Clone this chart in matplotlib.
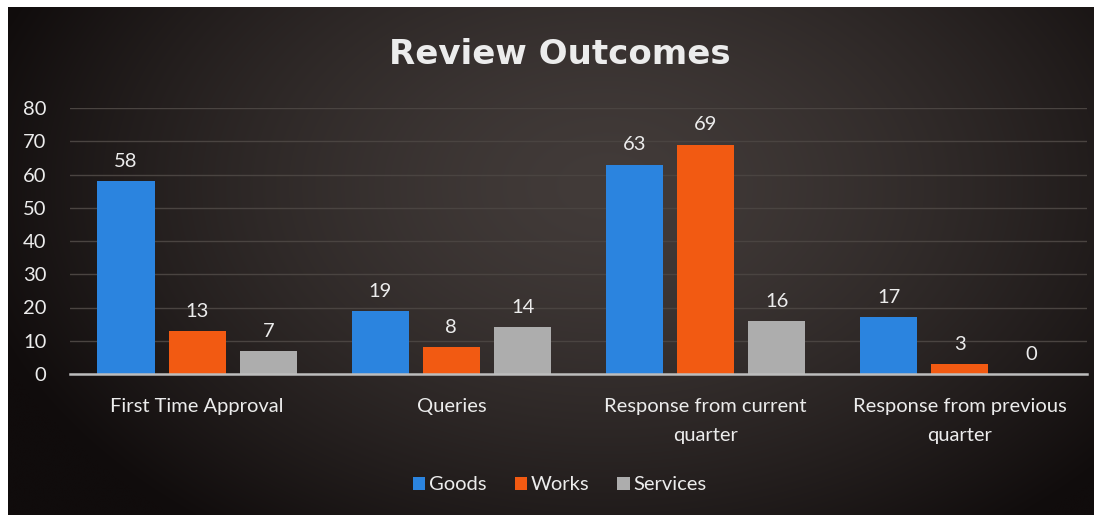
import numpy as np
import matplotlib
matplotlib.use("Agg")
import matplotlib.pyplot as plt

categories = ["First Time Approval", "Queries", "Response from current\nquarter", "Response from previous\nquarter"]
series_names = ["Goods", "Works", "Services"]
goods = [58, 19, 63, 17]
works = [13, 8, 69, 3]
services = [7, 14, 16, 0]
yticks = [0, 10, 20, 30, 40, 50, 60, 70, 80]

colors = ["#2B84DF", "#F25A12", "#ADADAD"]
txt = "#ECECEC"
plt.rcParams['font.family'] = ['Lato', 'DejaVu Sans']
fs = 14.5

fig = plt.figure(figsize=(11.04, 5.19), dpi=100)
fig.patch.set_facecolor("white")

# background with radial gradient
bg = fig.add_axes([8/1104, 1-515/519, (1094-8)/1104, (515-7)/519])
bg.set_axis_off()
ny, nx = 200, 400
yy, xx = np.mgrid[0:ny, 0:nx]
cx, cy = nx*0.55, ny*0.35
r = np.sqrt(((xx-cx)/(nx*0.6))**2 + ((yy-cy)/(ny*0.85))**2)
r = np.clip(r, 0, 1)
inner = np.array([66, 59, 57])/255
outer = np.array([16, 12, 12])/255
w = r[..., None]**1.5
img = inner[None, None, :]*(1-w) + outer[None, None, :]*w
bg.imshow(img, aspect='auto', extent=[0, 1, 0, 1], interpolation='bicubic')
bg.set_xlim(0, 1); bg.set_ylim(0, 1)

ax = fig.add_axes([70/1104, 145/519, 1017/1104, 266/519])
ax.patch.set_alpha(0)
x = np.arange(len(categories))
step = 0.28
width = 0.225
for i, (vals, name) in enumerate(zip([goods, works, services], series_names)):
    pos = x + (i-1)*step
    ax.bar(pos, vals, width=width, color=colors[i], label=name, zorder=3)
    for p, v in zip(pos, vals):
        ax.annotate(str(v), (p, v), xytext=(0, 8), textcoords="offset points",
                    ha="center", va="bottom", color=txt, fontsize=fs)

ax.set_xlim(-0.5, len(categories)-0.5)
ax.set_ylim(0, 80)
ax.set_yticks(yticks)
ax.set_yticklabels([str(t) for t in yticks])
ax.yaxis.grid(True, color="#4a4441", linewidth=1.0, zorder=0)
ax.set_axisbelow(True)
for s in ["top", "right", "left"]:
    ax.spines[s].set_visible(False)
ax.spines["bottom"].set_color("#BDBDBD")
ax.spines["bottom"].set_linewidth(1.8)
ax.spines["bottom"].set_zorder(4)
ax.tick_params(axis="y", length=0, pad=17, labelcolor=txt, labelsize=fs)
ax.tick_params(axis="x", length=0, pad=17, labelcolor=txt, labelsize=fs)
ax.set_xticks(x)
ax.set_xticklabels(categories, linespacing=1.85)

fig.text(0.507, 1-55/519, "Review Outcomes", ha="center", va="center",
         color=txt, fontsize=24.5, fontweight="bold", family=['DejaVu Sans'])

leg = fig.legend(loc="center", bbox_to_anchor=(0.507, 1-485/519), ncol=3, frameon=False,
                 fontsize=fs, handlelength=0.6, handleheight=0.6, handletextpad=0.2,
                 columnspacing=1.4)
for t in leg.get_texts():
    t.set_color(txt)

fig.savefig("out.png", dpi=100, facecolor=fig.get_facecolor())
